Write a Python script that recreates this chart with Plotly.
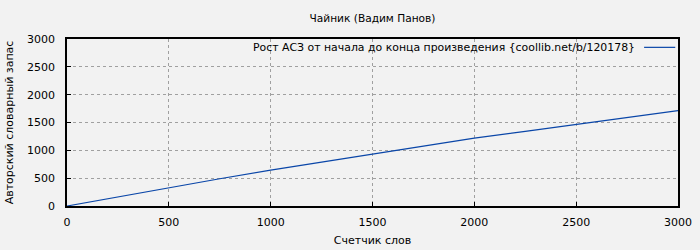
import plotly.graph_objects as go

words = [0, 250, 500, 750, 1000, 1250, 1500, 1750, 2000, 2250, 2500, 2750, 3000]
vocab = [0, 165, 328, 490, 645, 790, 932, 1075, 1218, 1342, 1468, 1592, 1712]

title = "Чайник (Вадим Панов)"
legend_label = "Рост АСЗ от начала до конца произведения {coollib.net/b/120178}"
x_title = "Счетчик слов"
y_title = "Авторский словарный запас"
x_ticks = [0, 500, 1000, 1500, 2000, 2500, 3000]
y_ticks = [0, 500, 1000, 1500, 2000, 2500, 3000]

line_color = "#0a46a8"
font = "DejaVu Sans"

fig = go.Figure()
fig.add_trace(go.Scatter(x=words, y=vocab, mode="lines",
                         line=dict(color=line_color, width=1.2),
                         showlegend=False, hoverinfo="skip"))

axis_common = dict(showline=True, linecolor="black", linewidth=1.5, mirror=True,
                   showgrid=True, gridcolor="#a0a0a0", griddash="dot", gridwidth=1,
                   zeroline=False, ticks="inside", ticklen=4, tickcolor="black",
                   automargin=False,
                   tickfont=dict(family=font, size=11, color="black"))

fig.update_xaxes(range=[0, 3000], tickvals=x_ticks, ticktext=[str(v) for v in x_ticks],
                 ticklabelstandoff=5,
                 title=dict(text=x_title, font=dict(family=font, size=11, color="black"), standoff=8),
                 **axis_common)
fig.update_yaxes(range=[0, 3000], tickvals=y_ticks, ticktext=[str(v) for v in y_ticks],
                 ticklabelstandoff=8,
                 title=dict(text=y_title, font=dict(family=font, size=11, color="black"), standoff=11),
                 **axis_common)

fig.add_annotation(xref="paper", yref="paper", x=0.9335, y=0.95, xanchor="right", yanchor="middle",
                   text=legend_label, showarrow=False,
                   font=dict(family=font, size=10.9, color="black"))
fig.add_shape(type="line", xref="paper", yref="paper", x0=0.9445, x1=0.9955, y0=0.95, y1=0.95,
              line=dict(color=line_color, width=1.2))

fig.update_layout(
    width=700, height=250,
    margin=dict(l=67, r=22, t=39, b=44, autoexpand=False),
    paper_bgcolor="#f2f2f2", plot_bgcolor="#f2f2f2",
    title=dict(text=title, xref="paper", x=0.5, xanchor="center", y=0.925, yanchor="middle",
               automargin=False,
               font=dict(family=font, size=10.6, color="black")),
    showlegend=False,
)

fig.write_html("out.html")
